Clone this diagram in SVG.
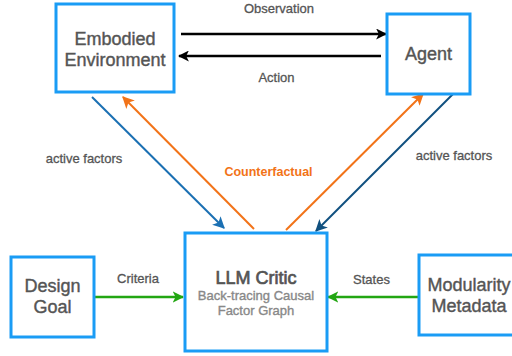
<svg xmlns="http://www.w3.org/2000/svg" width="512" height="356" viewBox="0 0 512 356">
<style>
.box{fill:#fff;stroke:#1a9cf5;stroke-width:3}
.nt{font-family:"Liberation Sans",Arial,sans-serif;font-size:18px;fill:#555;stroke:#555;stroke-width:0.4;text-anchor:middle}
.hd{stroke-width:0.7}
.sub{font-family:"Liberation Sans",Arial,sans-serif;font-size:13px;fill:#888;stroke:#888;stroke-width:0.35;text-anchor:middle}
.lb{font-family:"Liberation Sans",Arial,sans-serif;font-size:13px;fill:#555;stroke:#555;stroke-width:0.3;text-anchor:middle}
.cf{font-family:"Liberation Sans",Arial,sans-serif;font-size:12.5px;font-weight:bold;fill:#f27318;text-anchor:middle}
.k{stroke:#000;stroke-width:2.5;fill:none}
.b1{stroke:#1b70b3;stroke-width:2;fill:none}
.b2{stroke:#10507f;stroke-width:2;fill:none}
.o{stroke:#f27318;stroke-width:2;fill:none}
.g{stroke:#22a612;stroke-width:2.5;fill:none}
</style>
<defs>
<marker id="mk" viewBox="0 0 10 10" refX="9" refY="5" markerWidth="4.4" markerHeight="4.4" orient="auto" markerUnits="strokeWidth"><path d="M0,0 L10,5 L0,10 L2.5,5 z" fill="#000"/></marker>
<marker id="mb1" viewBox="0 0 10 10" refX="9" refY="5" markerWidth="6" markerHeight="6" orient="auto" markerUnits="strokeWidth"><path d="M0,0 L10,5 L0,10 L2.5,5 z" fill="#1b70b3"/></marker>
<marker id="mb2" viewBox="0 0 10 10" refX="9" refY="5" markerWidth="6" markerHeight="6" orient="auto" markerUnits="strokeWidth"><path d="M0,0 L10,5 L0,10 L2.5,5 z" fill="#10507f"/></marker>
<marker id="mo" viewBox="0 0 10 10" refX="9" refY="5" markerWidth="6" markerHeight="6" orient="auto" markerUnits="strokeWidth"><path d="M0,0 L10,5 L0,10 L2.5,5 z" fill="#f27318"/></marker>
<marker id="mg" viewBox="0 0 10 10" refX="9" refY="5" markerWidth="4.6" markerHeight="4.6" orient="auto" markerUnits="strokeWidth"><path d="M0,0 L10,5 L0,10 L2.5,5 z" fill="#22a612"/></marker>
</defs>
<g id="connectors">
<line class="k" x1="181" y1="34" x2="386" y2="34" marker-end="url(#mk)"/>
<line class="k" x1="381" y1="56" x2="179" y2="56" marker-end="url(#mk)"/>
<line class="b1" x1="92" y1="97" x2="224" y2="228" marker-end="url(#mb1)"/>
<line class="o" x1="254" y1="229" x2="123" y2="97" marker-end="url(#mo)"/>
<line class="o" x1="286" y1="230" x2="423" y2="94" marker-end="url(#mo)"/>
<line class="b2" x1="453" y1="94" x2="316" y2="231" marker-end="url(#mb2)"/>
<line class="g" x1="94" y1="297" x2="183" y2="297" marker-end="url(#mg)"/>
<line class="g" x1="419" y1="297" x2="328" y2="297" marker-end="url(#mg)"/>
<text class="lb" x="279" y="13">Observation</text>
<text class="lb" x="276.5" y="82">Action</text>
<text class="lb" x="84" y="163">active factors</text>
<text class="lb" x="454" y="160">active factors</text>
<text class="cf" x="268.5" y="176">Counterfactual</text>
<text class="lb" x="138" y="283">Criteria</text>
<text class="lb" x="371.5" y="284">States</text>
</g>
<g id="env"><rect class="box" x="56" y="4" width="118" height="88"/><text class="nt" x="115" y="45">Embodied</text><text class="nt" x="115" y="66">Environment</text></g>
<g id="agent"><rect class="box" x="387" y="14" width="83" height="80"/><text class="nt" x="428.5" y="60">Agent</text></g>
<g id="design"><rect class="box" x="11" y="257" width="83" height="80"/><text class="nt" x="52.5" y="292">Design</text><text class="nt" x="52.5" y="313">Goal</text></g>
<g id="critic"><rect class="box" x="185" y="233" width="142" height="118"/><text class="nt hd" x="256" y="284">LLM Critic</text><text class="sub" x="256" y="300">Back-tracing Causal</text><text class="sub" x="256" y="315">Factor Graph</text></g>
<g id="modularity"><rect class="box" x="419" y="255" width="100" height="80"/><text class="nt" x="469" y="291">Modularity</text><text class="nt" x="469" y="312">Metadata</text></g>
</svg>
